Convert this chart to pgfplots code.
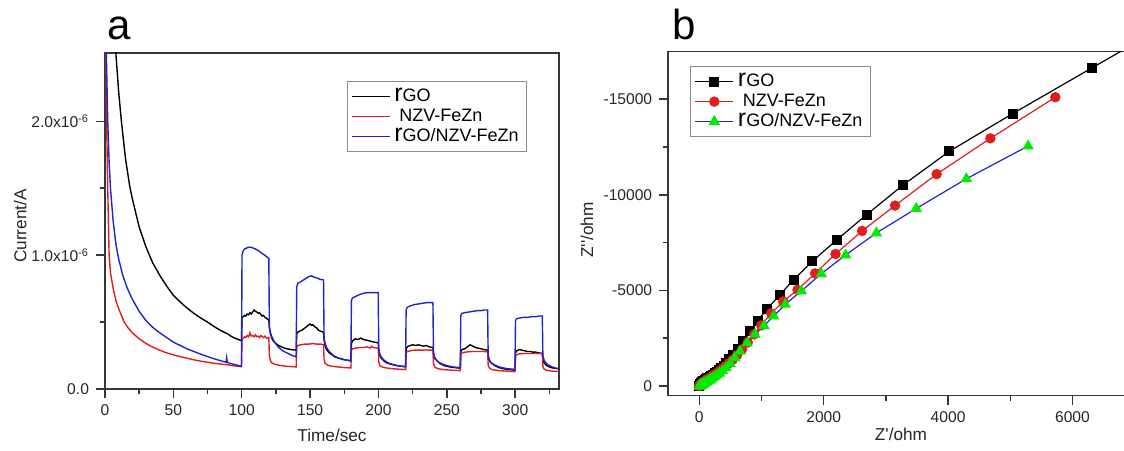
\documentclass[border=0pt]{standalone}
\usepackage{fontspec}
\setmainfont{Liberation Sans}
\usepackage{pgfplots}
\usepackage{pgfplotstable}
\pgfplotsset{compat=1.18}

\definecolor{axgray}{RGB}{55,55,55}
\definecolor{lgray}{RGB}{140,140,140}
\definecolor{cred}{RGB}{225,30,30}
\definecolor{cblue}{RGB}{35,35,205}
\definecolor{cgreen}{RGB}{0,235,0}

\newcommand{\rGO}{{\fontsize{12.5}{12.5}\selectfont r}GO}

% panel a: current in units of 1e-6 A
\pgfplotstableread{
t y
0 3.6
3 3.0
6 2.75
8 2.5
10 2.22
12 2.0
15 1.72
18 1.52
20 1.42
25 1.21
30 1.06
35 0.94
40 0.85
45 0.77
50 0.70
55 0.65
60 0.605
65 0.565
70 0.53
75 0.50
80 0.465
85 0.435
88 0.42
90 0.41
92 0.395
95 0.38
97 0.372
99.8 0.36
100.2 0.53
101 0.54
102 0.55
103 0.545
104 0.56
105 0.555
106 0.57
107 0.56
108 0.575
109 0.59
110 0.58
111 0.575
112 0.565
113 0.57
114 0.555
115 0.545
116 0.55
117 0.535
118 0.53
119 0.52
119.8 0.515
120.3 0.45
121 0.41
122 0.38
123 0.36
125 0.34
127 0.325
130 0.31
133 0.30
136 0.295
139.8 0.29
140.2 0.41
141 0.425
142 0.43
144 0.44
146 0.455
148 0.47
149 0.48
150 0.485
151 0.475
152 0.48
153 0.47
154 0.46
155 0.455
156 0.44
157 0.435
158 0.43
159.8 0.425
160.3 0.36
161 0.32
162 0.295
164 0.27
166 0.255
168 0.24
171 0.23
175 0.22
179.8 0.21
180.2 0.34
181 0.36
183 0.375
185 0.37
187 0.38
189 0.37
191 0.365
193 0.36
195 0.355
197 0.35
199.8 0.345
200.3 0.29
201 0.25
202 0.23
204 0.21
206 0.195
209 0.185
213 0.175
217 0.17
219.8 0.165
220.2 0.30
221 0.315
223 0.325
225 0.33
227 0.325
229 0.33
231 0.325
233 0.32
235 0.325
237 0.315
239.8 0.31
240.3 0.26
241 0.23
243 0.21
245 0.19
248 0.175
252 0.165
256 0.16
259.8 0.155
260.2 0.28
261 0.295
263 0.30
265 0.315
267 0.33
269 0.32
271 0.31
273 0.305
275 0.30
277 0.295
279.8 0.29
280.3 0.24
281 0.21
283 0.19
285 0.175
288 0.16
292 0.15
296 0.145
299.8 0.14
300.2 0.27
301 0.285
303 0.295
305 0.29
307 0.285
309 0.28
311 0.28
313 0.275
315 0.275
317 0.27
319.8 0.265
320.3 0.22
321 0.195
323 0.175
326 0.16
329 0.155
332 0.15
}\curRGO

\pgfplotstableread{
t y
0 3.6
0.5 2.8
1.0 2.2
1.5 1.8
2.0 1.5
3.0 1.0
4.0 0.87
6.0 0.75
8.0 0.66
10.0 0.60
14.0 0.50
17.0 0.455
20.0 0.42
25.0 0.375
30.0 0.34
35.0 0.312
40.0 0.29
45.0 0.27
50.0 0.255
55.0 0.242
60.0 0.23
65.0 0.218
70.0 0.208
75.0 0.20
80.0 0.192
85.0 0.186
90.0 0.18
95.0 0.172
99.8 0.167
100.2 0.36
101 0.38
102 0.39
103 0.385
104 0.40
105 0.39
106 0.42
107 0.395
108 0.40
109 0.39
110 0.405
111 0.39
112 0.395
113 0.385
114 0.40
115 0.39
116 0.385
117 0.395
118 0.38
119.8 0.385
120.2 0.25
121 0.21
122 0.195
124 0.185
127 0.178
131 0.172
135 0.168
139.8 0.165
140.2 0.31
141 0.325
143 0.33
146 0.335
149 0.335
152 0.34
155 0.335
158 0.335
159.8 0.33
160.2 0.22
161 0.19
163 0.178
166 0.17
170 0.165
175 0.16
179.8 0.157
180.2 0.29
181 0.30
183 0.305
186 0.31
189 0.31
192 0.315
194 0.305
195 0.32
196 0.31
199.8 0.305
200.2 0.20
201 0.175
203 0.163
206 0.157
210 0.152
215 0.148
219.8 0.145
220.2 0.27
221 0.28
223 0.285
226 0.29
229 0.29
232 0.29
235 0.292
237 0.29
239.8 0.29
240.2 0.19
241 0.165
243 0.153
246 0.147
250 0.143
255 0.14
259.8 0.137
260.2 0.26
261 0.27
263 0.275
266 0.278
269 0.28
272 0.28
275 0.28
277 0.28
279.8 0.278
280.2 0.18
281 0.158
283 0.145
286 0.14
290 0.136
295 0.133
299.8 0.13
300.2 0.25
301 0.257
303 0.262
306 0.265
309 0.265
312 0.265
315 0.266
317 0.265
319.8 0.265
320.2 0.17
321 0.15
323 0.14
326 0.135
329 0.132
332 0.13
}\curNZV

\pgfplotstableread{
t y
0 3.6
1 2.5
2 2.0
3 1.7
4 1.5
6 1.25
8 1.08
10 0.97
13 0.85
16 0.76
20 0.67
25 0.58
30 0.51
35 0.46
40 0.42
45 0.385
50 0.35
55 0.325
60 0.30
65 0.28
70 0.26
75 0.242
80 0.225
85 0.21
88.5 0.20
89.0 0.235
89.4 0.198
92 0.19
96 0.18
99.8 0.17
100.2 1.00
101 1.03
102 1.045
104 1.055
106 1.06
108 1.055
110 1.045
112 1.035
114 1.02
116 1.005
118 0.99
119.8 0.975
120.2 0.46
121 0.42
122 0.39
124 0.35
127 0.31
130 0.285
134 0.265
137 0.25
139.8 0.24
140.2 0.76
141 0.79
143 0.80
146 0.82
149 0.84
151 0.845
153 0.835
155 0.83
157 0.82
159.8 0.815
160.2 0.38
161 0.34
162 0.31
164 0.28
167 0.25
170 0.235
174 0.22
177 0.215
179.8 0.21
180.2 0.66
181 0.68
183 0.69
186 0.705
189 0.715
192 0.72
195 0.72
197 0.72
199.8 0.72
200.2 0.29
201 0.26
202 0.24
204 0.215
207 0.195
210 0.185
214 0.175
217 0.17
219.8 0.167
220.2 0.59
221 0.61
223 0.62
226 0.63
229 0.635
232 0.64
235 0.645
237 0.645
239.8 0.645
240.2 0.27
241 0.24
242 0.22
244 0.20
247 0.185
250 0.175
254 0.165
257 0.162
259.8 0.16
260.2 0.55
261 0.565
263 0.57
266 0.575
269 0.58
272 0.585
275 0.585
277 0.59
279.8 0.59
280.2 0.25
281 0.22
282 0.20
284 0.185
287 0.17
290 0.16
294 0.152
297 0.149
299.8 0.147
300.2 0.51
301 0.525
303 0.53
306 0.535
309 0.535
312 0.54
315 0.54
317 0.545
319.8 0.545
320.2 0.25
321 0.22
322 0.20
324 0.18
327 0.165
330 0.155
332 0.152
}\curMix

% panel b: Nyquist data (Z', Z'')
\pgfplotstableread{
x y
0 0
5 -30
10 -60
16 -90
23 -120
31 -150
40 -180
50 -210
61 -240
73 -270
86 -300
100 -335
115 -370
131 -405
150 -445
170 -490
193 -540
218 -595
246 -660
277 -735
311 -825
348 -930
389 -1055
434 -1210
483 -1390
542 -1620
617 -1960
705 -2380
807 -2884
940 -3426
1095 -4055
1291 -4755
1516 -5559
1816 -6520
2208 -7639
2692 -8967
3280 -10523
4018 -12271
5038 -14246
6306 -16623
7100 -18110
}\eisRGO

\pgfplotstableread{
x y
0 0
5 -25
11 -50
18 -75
26 -100
35 -128
45 -156
56 -185
68 -215
81 -245
96 -278
112 -312
130 -350
150 -392
172 -438
197 -490
225 -550
256 -620
291 -700
330 -795
373 -905
421 -1035
475 -1190
537 -1380
607 -1620
687 -1920
778 -2280
880 -2700
995 -3170
1155 -3800
1350 -4420
1579 -5034
1862 -5891
2190 -6905
2617 -8111
3147 -9439
3816 -11082
4680 -12953
5724 -15103
}\eisNZV

\pgfplotstableread{
x y
0 0
4 -4
7 -8
10 -12
13 -17
16 -22
19 -27
22 -32
26 -39
30 -46
35 -54
40 -63
46 -74
53 -87
61 -102
70 -120
80 -140
92 -162
106 -190
122 -222
141 -262
162 -305
186 -355
214 -415
246 -485
283 -570
325 -670
374 -790
430 -955
495 -1180
570 -1470
655 -1810
770 -2260
895 -2700
1040 -3150
1195 -3660
1382 -4270
1640 -4970
1960 -5873
2352 -6852
2847 -8006
3487 -9282
4294 -10838
5286 -12551
}\eisMix

\pgfplotsset{
  common/.style={
    scale only axis,
    tick pos=left,
    tick align=outside,
    scaled ticks=false,
    /pgf/number format/assume math mode=true,
    clip=true,
    axis line style={draw=axgray, line width=0.75pt},
    every tick/.style={axgray, line width=0.75pt},
    major tick length=4.5pt,
    minor tick length=2.6pt,
    tick label style={font=\fontsize{7.8}{9}\selectfont, text=black!85},
    label style={font=\fontsize{8.6}{10}\selectfont, text=black!85},
    legend cell align=left,
    legend style={draw=lgray, line width=0.6pt, fill=white,
      font=\fontsize{9}{10}\selectfont, inner xsep=2pt, inner ysep=1.5pt,
      row sep=-2pt},
  },
}

\begin{document}
\begin{tikzpicture}
\useasboundingbox (0pt,0pt) rectangle (562pt,225pt);

\node[anchor=base west, inner sep=0pt, font=\fontsize{21}{21}\selectfont] at (53.3pt,205pt) {a};
\node[anchor=base west, inner sep=0pt, font=\fontsize{21}{21}\selectfont] at (335.8pt,205pt) {b};

\begin{axis}[common,
  at={(52.5pt,30.5pt)}, anchor=south west,
  width=227pt, height=168pt,
  xmin=0, xmax=332, ymin=0, ymax=2.51,
  xtick={0,50,...,300},
  minor xtick={25,75,...,325},
  ytick={0,1,2},
  minor ytick={0.5,1.5},
  yticklabels={0.0,{1.0x10\textsuperscript{-6}},{2.0x10\textsuperscript{-6}}},
  xlabel={Time/sec},
  ylabel={Current/A},
  xlabel style={at={(axis description cs:0.5,-0.137)}, anchor=center},
  ylabel style={at={(axis description cs:-0.187,0.485)}, anchor=center, rotate=0},
  legend style={at={(0.532,0.917)}, anchor=north west},
  legend image code/.code={\draw[#1, line width=0.6pt] (0pt,0pt) -- (19pt,0pt);},
]
\addplot[black, line width=0.7pt] table[x=t, y=y] {\curRGO};
\addlegendentry{\rGO}
\addplot[cred, line width=0.7pt] table[x=t, y=y] {\curNZV};
\addlegendentry{\ NZV-FeZn}
\addplot[cblue, line width=0.7pt] table[x=t, y=y] {\curMix};
\addlegendentry{\rGO/NZV-FeZn}
\end{axis}

\begin{axis}[common,
  at={(334.1pt,27.2pt)}, anchor=south west,
  width=233.25pt, height=172.1pt,
  xmin=-500, xmax=7000, ymin=-17500, ymax=500,
  y dir=reverse,
  xtick={0,2000,4000,6000},
  xticklabels={0,2000,4000,6000},
  minor xtick={1000,3000,5000},
  ytick={0,-5000,-10000,-15000},
  yticklabels={0,-5000,-10000,-15000},
  minor ytick={-2500,-7500,-12500},
  xlabel={Z\textquotesingle/ohm},
  ylabel={Z\textquotesingle\textquotesingle/ohm},
  xlabel style={at={(axis description cs:0.499,-0.112)}, anchor=center},
  ylabel style={at={(axis description cs:-0.174,0.481)}, anchor=center, rotate=0},
  legend style={at={(0.047,0.958)}, anchor=north west},
  legend image code/.code={\draw[mark repeat=2,mark phase=2,#1] plot coordinates {(0pt,0pt) (9.5pt,0pt) (19pt,0pt)};},
]
\addplot[black, line width=0.6pt, mark=square*, mark size=2.2pt, mark options={fill=black}] table[x=x, y=y] {\eisRGO};
\addlegendentry{\rGO}
\addplot[cred, line width=0.6pt, mark=*, mark size=2.3pt, mark options={fill=cred, draw=cred}] table[x=x, y=y] {\eisNZV};
\addlegendentry{\ NZV-FeZn}
\addplot[cblue, line width=0.6pt, mark=triangle*, mark size=2.7pt, mark options={fill=cgreen, draw=cgreen}] table[x=x, y=y] {\eisMix};
\addlegendentry{\rGO/NZV-FeZn}
\end{axis}
\end{tikzpicture}
\end{document}
